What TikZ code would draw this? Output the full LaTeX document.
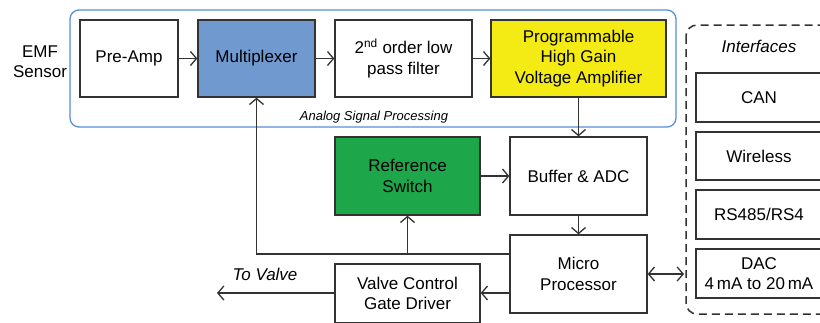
\documentclass[tikz,border=0pt]{standalone}
\usepackage{fontspec}
\setmainfont{Liberation Sans}
\usetikzlibrary{arrows.meta}
\definecolor{edge}{HTML}{333333}
\definecolor{muxblue}{HTML}{7099D0}
\definecolor{ampyellow}{HTML}{F5EB14}
\definecolor{refgreen}{HTML}{1DA64A}
\definecolor{grpblue}{HTML}{5A8ED6}
\tikzset{
  blk/.style={draw=edge, line width=1.3pt, fill=white, inner sep=2pt, align=center,
    font=\fontsize{17}{20.7}\selectfont, minimum height=77pt},
  ifbox/.style={blk, minimum width=126pt, minimum height=49pt},
  lbl/.style={font=\fontsize{17}{20}\selectfont, align=center, inner sep=0pt},
  ilbl/.style={font=\fontsize{17}{20}\itshape, inner sep=0pt},
  tip/.style={Straight Barb[length=6pt,width=14pt,line width=1.3pt]},
  conn/.style={draw=edge, line width=1.3pt, -{Straight Barb[length=6pt,width=14pt,line width=1.3pt]}},
  bconn/.style={draw=edge, line width=1.3pt, {Straight Barb[length=6pt,width=14pt,line width=1.3pt]}-{Straight Barb[length=6pt,width=14pt,line width=1.3pt]}},
}
\begin{document}
\begin{tikzpicture}[x=1pt,y=-1pt]
\useasboundingbox (0,0) rectangle (820,322);
\clip (0,0) rectangle (820,322);
\fill[white] (0,0) rectangle (820,322);
% group boxes
\draw[grpblue, line width=1.3pt, rounded corners=9pt] (70,10) rectangle (676,127);
\draw[edge, line width=1.5pt, dash pattern=on 8pt off 5pt, rounded corners=11pt] (686,25) rectangle (850,314);
\node[font=\fontsize{13}{15}\itshape, inner sep=0pt] (asp) at (374,117) {Analog Signal Processing};
\node[ilbl] (ifl) at (759,46) {Interfaces};
% labels
\node[lbl] (emf) at (40,62) {EMF\\Sensor};
% blocks
\node[blk, minimum width=98pt] (pre) at (129,58.5) {Pre-Amp};
\node[blk, minimum width=117pt, fill=muxblue] (mux) at (256.5,58.5) {Multiplexer};
\node[blk, minimum width=137pt] (flt) at (403.5,58.5) {2\textsuperscript{nd} order low\\pass filter};
\node[blk, minimum width=175pt, fill=ampyellow] (amp) at (578.5,58.5) {Programmable\\High Gain\\Voltage Amplifier};
\node[blk, minimum width=145pt, minimum height=78pt, fill=refgreen] (ref) at (407.5,176) {Reference\\Switch};
\node[blk, minimum width=137pt, minimum height=78pt] (buf) at (578.5,176) {Buffer \& ADC};
\node[blk, minimum width=137pt, minimum height=78pt] (mcu) at (578.5,274) {Micro\\Processor};
\node[blk, minimum width=145pt, minimum height=59pt] (vlv) at (407.5,293.5) {Valve Control\\Gate Driver};
% interfaces
\node[ifbox] (can) at (759,97.5) {CAN};
\node[ifbox, minimum height=48pt] (wls) at (759,156) {Wireless};
\node[ifbox] (rs) at (759,214.5) {RS485/RS4};
\node[ifbox] (dac) at (759,273.5) {DAC\\4\,mA to 20\,mA};
% connectors
\draw[conn] (pre) -- (mux);
\draw[conn] (mux) -- (flt);
\draw[conn] (flt) -- (amp);
\draw[conn] (amp) -- (buf);
\draw[conn] (ref) -- (buf);
\draw[conn] (buf) -- (mcu);
\coordinate (loopr) at (mcu.west |- 0,254);
\coordinate (loopl) at (mux.south |- 0,254);
\coordinate (refb) at (ref.south |- 0,254);
\draw[conn] (loopr) -- (loopl) -- (mux.south);
\draw[conn] (refb) -- (ref.south);
\draw[conn] (mcu.west |- 0,293) -- (vlv.east |- 0,293);
\coordinate (valveend) at (217,293);
\draw[conn] (vlv.west |- 0,293) -- (valveend);
\node[ilbl] (tov) at (265,274) {To Valve};
\coordinate (ifedge) at (684,274);
\draw[bconn] (mcu.east |- ifedge) -- (ifedge);
\end{tikzpicture}
\end{document}
